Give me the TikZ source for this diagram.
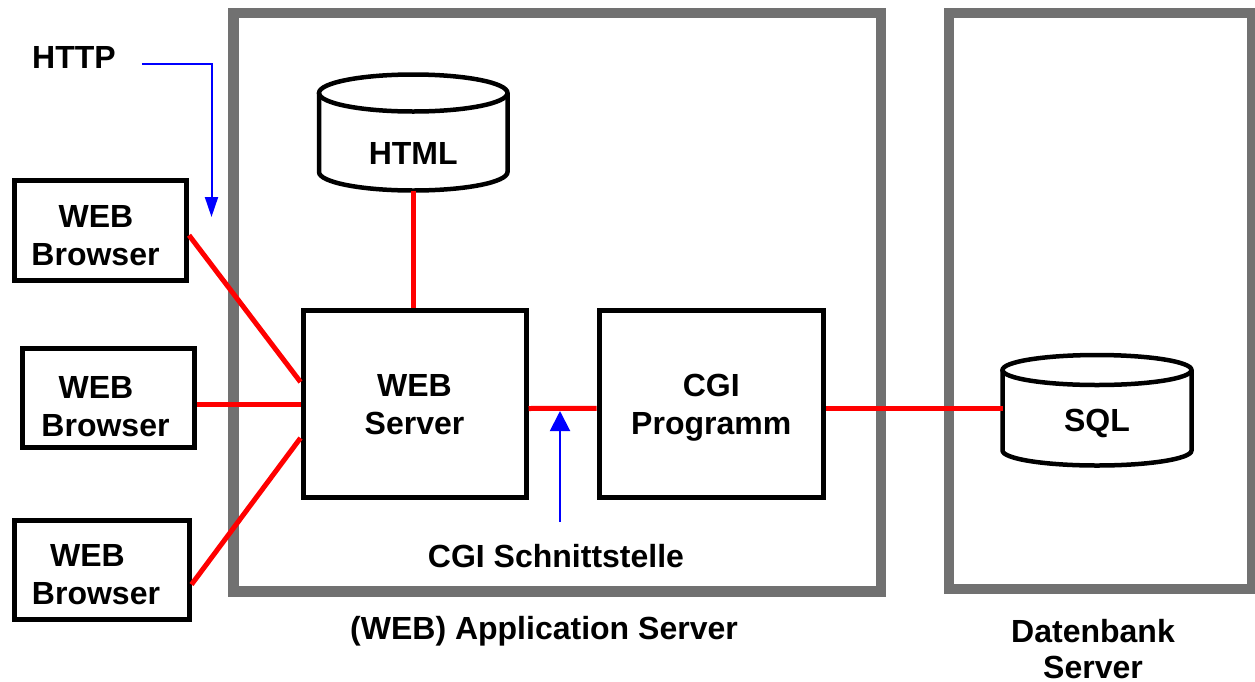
\documentclass[tikz,border=0pt]{standalone}
\usepackage{fontspec}
\setmainfont{Liberation Sans}
\usetikzlibrary{arrows.meta,calc}
\definecolor{framegray}{RGB}{113,113,113}
\definecolor{linkred}{RGB}{255,0,0}
\definecolor{noteblue}{RGB}{0,0,255}
% invisible strut that lowers a two-line label inside its box
\newcommand{\lowerby}[1]{\rule{0pt}{\dimexpr 23pt+#1\relax}}
\begin{document}
\begin{tikzpicture}[x=1pt,y=-1pt,
  every node/.style={font=\fontsize{32}{38}\selectfont\bfseries},
  container/.style={draw=framegray,line width=10.5pt,inner sep=0pt},
  unit/.style={draw=black,line width=5pt,align=center,inner sep=0pt},
  store/.style={inner sep=0pt,outer sep=0pt},
  drum/.style={draw=black,line width=4.5pt},
  link/.style={draw=linkred,line width=5pt},
  pointer/.style={draw=noteblue,line width=2pt},
  caption/.style={inner sep=0pt,align=center}]
\useasboundingbox (0,0) rectangle (1255,681);

% server frames
\node[container,minimum width=647.5pt,minimum height=578.7pt] (appsrv) at (557.25,302.35) {};
\node[container,minimum width=303pt,minimum height=576pt] (dbsrv) at (1100.5,301) {};

% storage cylinders (text nodes; outlines drawn around them)
\node[store,minimum width=188.5pt,minimum height=75pt] (html) at (413.25,153) {HTML};
\draw[drum] (319,93) -- (319,172) arc[start angle=180,end angle=360,x radius=94.25pt,y radius=18.5pt] -- (507.5,93);
\draw[drum] (413.25,93) ellipse [x radius=94.25pt,y radius=18.5pt];

\node[store,minimum width=189pt,minimum height=80pt] (sql) at (1097,423) {SQL};
\draw[drum] (1002.5,370) -- (1002.5,450.5) arc[start angle=180,end angle=360,x radius=94.5pt,y radius=15pt] -- (1191.5,370);
\draw[drum] (1097,370) ellipse [x radius=94.5pt,y radius=15pt];

% clients and server components
\node[unit,minimum width=172pt,minimum height=100.5pt] (br1) at (100.5,230.25) {\lowerby{10pt}WEB\hspace*{9pt}\\Browser\hspace*{10pt}};
\node[unit,minimum width=172pt,minimum height=99pt] (br2) at (108,398) {\lowerby{16pt}WEB\hspace*{24pt}\\Browser\hspace*{5pt}};
\node[unit,minimum width=175pt,minimum height=99pt] (br3) at (101.5,569.5) {\lowerby{9pt}WEB\hspace*{28pt}\\Browser\hspace*{11pt}};
\node[unit,minimum width=223pt,minimum height=187pt] (web) at (414.5,404) {\lowerby{1pt}WEB\\Server};
\node[unit,minimum width=224.5pt,minimum height=187.5pt] (cgi) at (711.25,403.75) {\lowerby{8pt}CGI\\Programm};

% connections
\draw[link] ($(br1.east)+(0,5)$) -- ($(web.west)+(0,-22)$);
\draw[link] (br2.east |- web.west) -- (web.west);
\draw[link] ($(br3.east)+(0,15)$) -- ($(web.west)+(0,34)$);
\draw[link] (html.south) -- (web.north -| html.south);
\draw[link] ($(web.east)+(0,4.5)$) -- ($(cgi.west)+(0,4.5)$);
\draw[link] ($(cgi.east)+(0,4.5)$) coordinate (cgiout) -- (sql.west |- cgiout);

% annotations
\node[caption] (http) at (74,57) {HTTP};
\coordinate (httptip) at (211.5,217);
\draw[pointer,-{Triangle[width=13pt,length=20pt]}] ($(http.east)+(26,7)$) -| (httptip);

\node[caption] (iflabel) at (556,556) {CGI Schnittstelle};
\coordinate (ifsrc) at (560,522);
\coordinate (iface) at (560,411);
\draw[pointer,-{Triangle[width=20pt,length=20pt]}] (ifsrc) -- (iface);

\node[caption] (applbl) at (544,631) {(WEB) Application Server};
\node[caption,font=\fontsize{32}{36}\selectfont\bfseries] (dblbl) at (1093,649) {Datenbank\\Server};
\end{tikzpicture}
\end{document}
